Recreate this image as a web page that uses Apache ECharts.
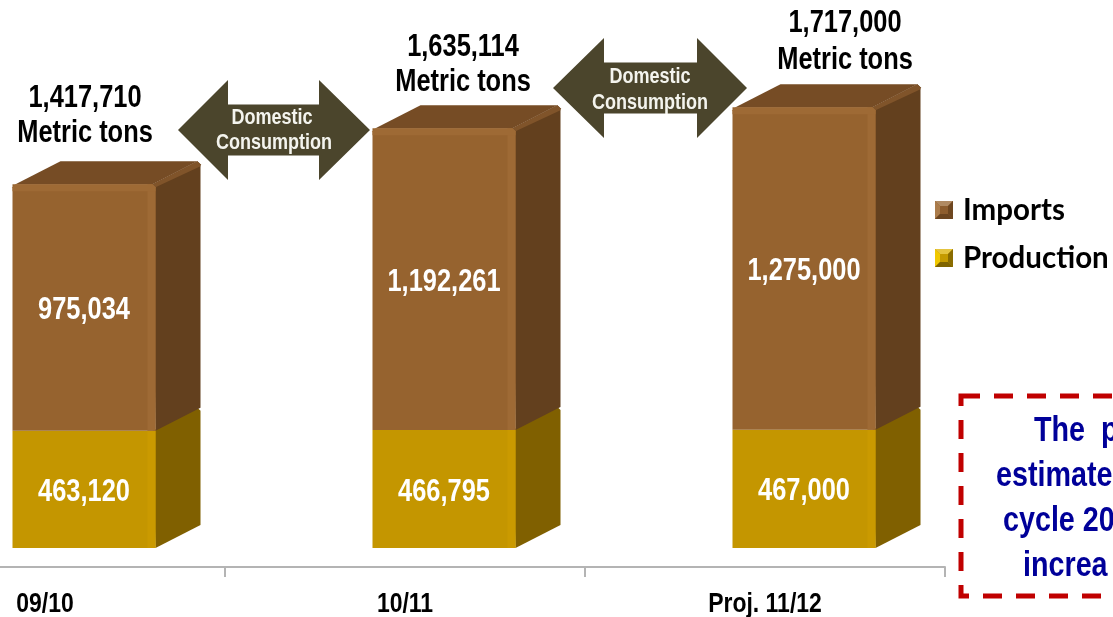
<!DOCTYPE html>
<html><head><meta charset="utf-8">
<style>html,body{margin:0;padding:0;background:#fff;overflow:hidden}#c{width:1113px;height:617px}</style>
<script src="https://cdn.jsdelivr.net/npm/echarts@6/dist/echarts.min.js"></script>
</head><body><div id="c"></div>
<script>
const categories = ['09/10', '10/11', 'Proj. 11/12'];
const imports = [975034, 1192261, 1275000];
const production = [463120, 466795, 467000];
const totals = [1417710, 1635114, 1717000];
const unitLabel = 'Metric tons';
const arrowLines = ['Domestic', 'Consumption'];
const noteLines = ['The  p', 'estimate', 'cycle 20', 'increa'];

const FONT = '"Liberation Sans",Arial,sans-serif';
const NARROW_X = 0.82;
const fmt = v => v.toLocaleString('en-US');
const FRONT_W = 143, DX = 45, DY = 23, SHIFT = 39;

function poly(points, fill, z) {
  return {type: 'polygon', z: z || 0, shape: {points}, style: {fill}, silent: true};
}
function cuboid(colors, hasTop) {
  return function (params, api) {
    const c = api.value(0), lo = api.value(1), hi = api.value(2);
    const pB = api.coord([c, lo]), pT = api.coord([c, hi]);
    const x0 = pB[0] + SHIFT - FRONT_W / 2, x1 = x0 + FRONT_W, yb = pB[1], yt = pT[1];
    const ch = [
      poly([[x1, yb], [x1 + DX, yb - DY], [x1 + DX, yt - DY + 3], [x1 + DX - 3, yt - DY], [x1 - 3, yt]], colors.side),
      poly([[x0, yb], [x1, yb], [x1, yt], [x0, yt]], colors.front),
      poly([[x1 - 8, yb], [x1, yb], [x1, yt], [x1 - 8, yt]], colors.edge)
    ];
    if (hasTop) {
      ch.push(
        poly([[x0 + 3, yt], [x1 - 3, yt], [x1 + DX - 3, yt - DY], [x0 + DX + 3, yt - DY]], colors.top),
        poly([[x1 - 3, yt], [x1, yt + 3], [x1 + DX, yt - DY + 5], [x1 + DX, yt - DY + 3], [x1 + DX - 3, yt - DY]], colors.ridge),
        poly([[x0, yt + 3], [x0 + 3, yt], [x1 - 3, yt], [x1, yt + 3], [x1, yt + 7], [x0, yt + 7]], colors.edge)
      );
    }
    ch.push({
      type: 'text', silent: true, x: (x0 + x1) / 2, y: (yb + yt) / 2 + 3, scaleX: NARROW_X,
      style: {
        text: fmt(api.value(3)), x: 0, y: 0,
        fill: '#fff', align: 'center', verticalAlign: 'middle',
        font: 'bold 31px ' + FONT
      }
    });
    return {type: 'group', children: ch};
  };
}
const brown = {front: '#96632f', edge: '#9e6a35', side: '#63401e', top: '#764c25', ridge: '#80542a'};
const gold = {front: '#c49600', edge: '#ca9a00', side: '#806000'};

function centerText(text, x, y, size, fill) {
  return {type: 'text', z: 20, x, y, scaleX: NARROW_X, style: {
    text, x: 0, y: 0, fill, align: 'center', verticalAlign: 'middle',
    font: 'bold ' + size + 'px ' + FONT
  }};
}
function arrow(l, h1, h2, r, yc) {
  return {type: 'polygon', z: 10, shape: {points: [
    [l, yc], [h1, yc - 50], [h1, yc - 25.5], [h2, yc - 25.5], [h2, yc - 50], [r, yc],
    [h2, yc + 50], [h2, yc + 25.5], [h1, yc + 25.5], [h1, yc + 50]
  ]}, style: {fill: '#4b452c'}};
}
function legendIcon(x, y, c) {
  const s = 18, i = 5, z = 30;
  return {type: 'group', x, y, children: [
    poly([[0, 0], [s, 0], [s - i, i], [i, i]], c[0], z),
    poly([[0, 0], [i, i], [i, s - i], [0, s]], c[1], z),
    poly([[s, 0], [s, s], [s - i, s - i], [s - i, i]], c[2], z),
    poly([[0, s], [s, s], [s - i, s - i], [i, s - i]], c[3], z),
    poly([[i, i], [s - i, i], [s - i, s - i], [i, s - i]], c[4], z)
  ]};
}
const totalPos = [[85, 98, 133], [463, 47, 82], [845, 23, 60]];
const graphics = [
  arrow(178, 228, 319, 370, 130),
  arrow(553, 604, 697, 747, 88),
  centerText(arrowLines[0], 272, 118, 22, '#f4f4ee'),
  centerText(arrowLines[1], 274, 143, 22, '#f4f4ee'),
  centerText(arrowLines[0], 650, 77, 22, '#f4f4ee'),
  centerText(arrowLines[1], 650, 103, 22, '#f4f4ee'),
  legendIcon(935, 201, ['#b08a62', '#ab7c4b', '#6e4720', '#6b4520', '#8d5d2e']),
  legendIcon(935, 249, ['#e4c440', '#f0c800', '#8a6c00', '#7f6400', '#c49a00']),
  {type: 'rect', z: 15, shape: {x: 961, y: 396, width: 300, height: 200},
   style: {fill: 'none', stroke: '#c00000', lineWidth: 5, lineDash: [19, 14]}}
];
totals.forEach((t, i) => {
  graphics.push(centerText(fmt(t), totalPos[i][0], totalPos[i][1], 31, '#000'));
  graphics.push(centerText(unitLabel, totalPos[i][0], totalPos[i][2], 31, '#000'));
});
const noteX = [1034, 996, 1003, 1023];
noteLines.forEach((t, i) => {
  graphics.push({type: 'text', z: 20, x: noteX[i], y: 431 + i * 45, scaleX: NARROW_X, style: {
    text: t, x: 0, y: 0, fill: '#000099', align: 'left', verticalAlign: 'middle',
    font: 'bold 35px ' + FONT
  }});
});

const chart = echarts.init(document.getElementById('c'), null, {renderer: 'canvas'});
chart.setOption({
  animation: false,
  backgroundColor: '#fff',
  grid: {left: -135, top: 0, width: 1080, height: 567, containLabel: false, outerBoundsMode: 'none'},
  xAxis: {
    type: 'category', data: categories, boundaryGap: true,
    axisLine: {show: true, onZero: false, lineStyle: {color: '#b4b4b4', width: 2}},
    axisTick: {show: true, length: 10, alignWithLabel: false, lineStyle: {color: '#b4b4b4', width: 2}},
    axisLabel: {show: true, interval: 0, hideOverlap: false, color: '#000', margin: 23, fontFamily: 'Liberation Sans', fontWeight: 'bold', fontSize: 28}
  },
  yAxis: {type: 'value', min: -75000, max: 2166000, show: false, splitLine: {show: false}},
  legend: {
    show: true, orient: 'vertical', left: 935, top: 195, itemWidth: 18, itemHeight: 18, itemGap: 18,
    padding: 0, icon: 'rect', data: ['Imports', 'Production'],
    textStyle: {color: '#000', fontFamily: 'Lato', fontWeight: 'bold', fontSize: 29.5, lineHeight: 30, padding: [0, 0, 0, 5]},
    selectedMode: false
  },
  series: [
    {type: 'custom', name: 'Production', clip: false, z: 2, itemStyle: {color: '#c49600'},
     encode: {x: 0, y: [1, 2]},
     renderItem: cuboid(gold, false),
     data: production.map((v, i) => [i, 0, v, v])},
    {type: 'custom', name: 'Imports', clip: false, z: 3, itemStyle: {color: '#8d5d2e'},
     encode: {x: 0, y: [1, 2]},
     renderItem: cuboid(brown, true),
     data: imports.map((v, i) => [i, production[i], production[i] + v, v])}
  ],
  graphic: graphics
});
// Reference axis labels are condensed; no narrow face is installed, so squeeze the axis's own labels.
const zr = chart.getZr();
zr.storage.getDisplayList(true).forEach(el => {
  const t = el.parent;
  if (el.style && categories.includes(el.style.text) && t && t.scaleX !== undefined) {
    t.scaleX = NARROW_X;
    t.originX = 0;
    t.markRedraw();
  }
});
zr.refreshImmediately();
</script></body></html>
